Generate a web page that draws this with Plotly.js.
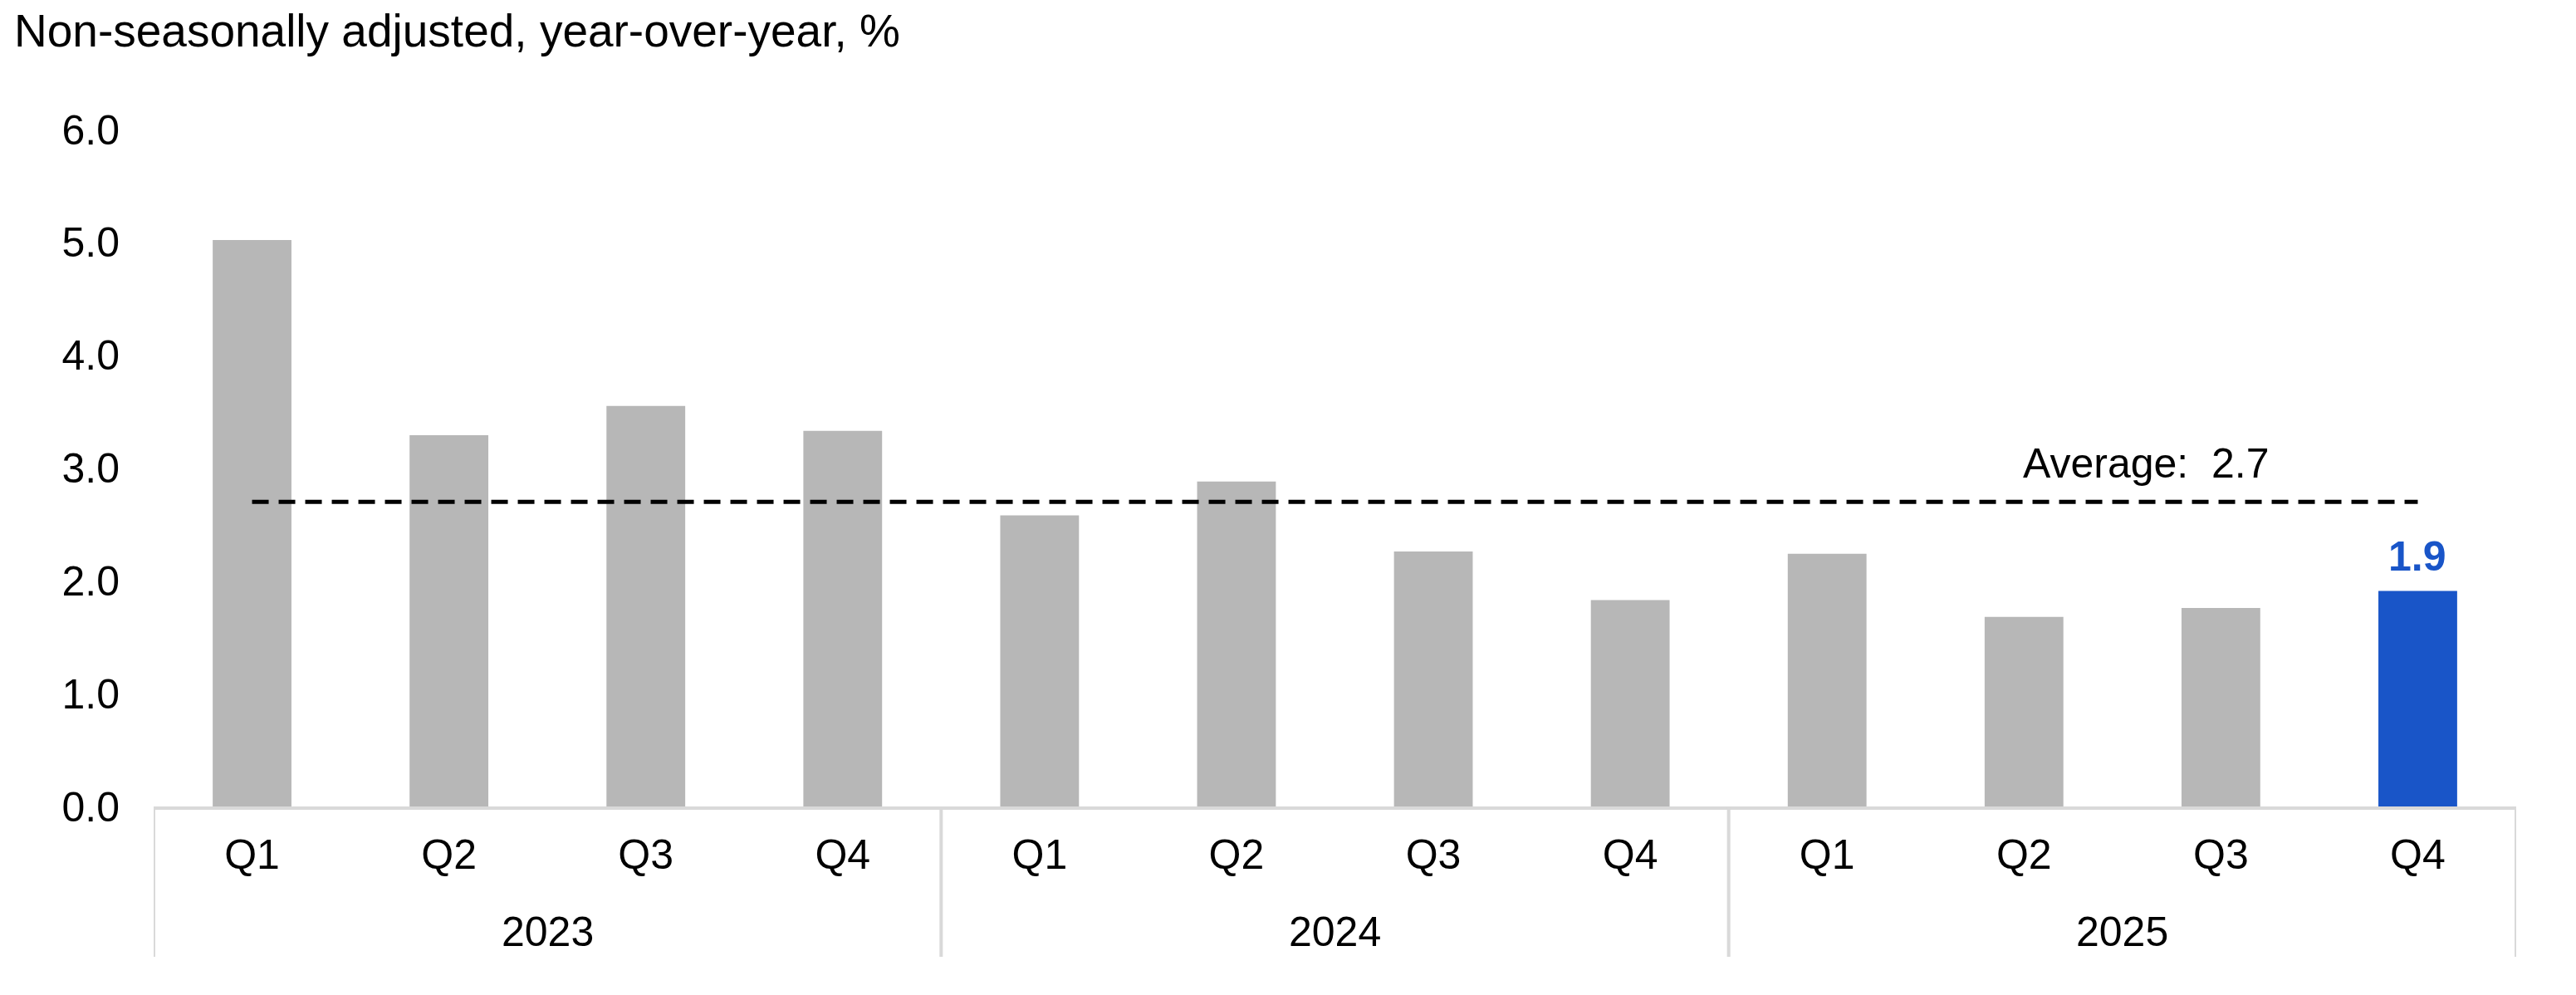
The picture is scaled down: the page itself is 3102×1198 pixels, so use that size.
<!DOCTYPE html>
<html>
<head>
<meta charset="utf-8">
<script src="https://cdn.plot.ly/plotly-3.0.1.min.js"></script>
<style>
  html, body { margin: 0; padding: 0; background: #ffffff; }
  #chart { width: 3102px; height: 1198px; }
</style>
</head>
<body>
<div id="chart"></div>
<script>
// ---- Data ----
const years    = ["2023", "2023", "2023", "2023", "2024", "2024", "2024", "2024", "2025", "2025", "2025", "2025"];
const quarters = ["Q1", "Q2", "Q3", "Q4", "Q1", "Q2", "Q3", "Q4", "Q1", "Q2", "Q3", "Q4"];
const values   = [5.02, 3.29, 3.55, 3.33, 2.58, 2.88, 2.26, 1.83, 2.24, 1.68, 1.76, 1.91];
const average  = 2.7;
const yTicks   = [0, 1, 2, 3, 4, 5, 6];
const titleText = "Non-seasonally adjusted, year-over-year, %";
const averageLabel = "Average:  2.7";

// ---- Styling ----
const FONT = "Arial, 'Liberation Sans', sans-serif";
const GREY = "#b7b7b7";
const BLUE = "#1955c8";
const AXIS = "#d9d9d9";
const PLOT_H = 1198 - 156 - 227;

const idx = values.map((v, i) => i);
const last = values.length - 1;
const barColors = values.map((v, i) => i === last ? BLUE : GREY);

// year groups derived from the data
const groups = [];
years.forEach((y, i) => {
  if (!groups.length || groups[groups.length - 1].year !== y) groups.push({ year: y, start: i, end: i });
  else groups[groups.length - 1].end = i;
});

const bars = {
  type: "bar",
  x: idx,
  y: values,
  marker: { color: barColors, line: { width: 0 } },
  hoverinfo: "skip",
  showlegend: false
};

const avgLine = {
  type: "scatter",
  mode: "lines",
  x: [idx[0], idx[last]],
  y: [average, average],
  line: { color: "#000000", width: 5, dash: "20px,12px" },
  hoverinfo: "skip",
  showlegend: false
};

const yearAnnotations = groups.map(g => ({
  xref: "x", yref: "paper",
  x: (g.start + g.end) / 2, y: 0,
  xanchor: "center", yanchor: "middle", yshift: -151,
  text: g.year, showarrow: false,
  font: { family: FONT, size: 50, color: "#000000" }
}));

const boundaries = [groups[0].start - 0.5].concat(groups.map(g => g.end + 0.5));
const dividerShapes = boundaries.map(b => ({
  type: "line", xref: "x", yref: "paper",
  x0: b, x1: b, y0: 0, y1: -181 / PLOT_H,
  line: { color: AXIS, width: 4 }
}));

const layout = {
  width: 3102,
  height: 1198,
  margin: { l: 185, r: 72, t: 156, b: 227 },
  paper_bgcolor: "#ffffff",
  plot_bgcolor: "#ffffff",
  font: { family: FONT, size: 50, color: "#000000" },
  bargap: 0.6,
  title: {
    text: titleText,
    font: { family: FONT, size: 55, color: "#000000" },
    x: 17 / 3102, xref: "container", xanchor: "left",
    y: 1 - 37 / 1198, yref: "container", yanchor: "middle"
  },
  xaxis: {
    type: "linear",
    range: [-0.5, last + 0.5],
    tickvals: idx,
    ticktext: quarters,
    showline: true,
    linecolor: AXIS,
    linewidth: 4,
    showgrid: false,
    zeroline: false,
    ticks: "",
    ticklabelstandoff: 11,
    tickfont: { family: FONT, size: 50, color: "#000000" },
    fixedrange: true
  },
  yaxis: {
    range: [0, 6],
    tickvals: yTicks,
    tickformat: ".1f",
    showgrid: false,
    zeroline: false,
    showline: false,
    ticks: "",
    ticklabelstandoff: 40,
    tickfont: { family: FONT, size: 50, color: "#000000" },
    fixedrange: true
  },
  shapes: dividerShapes,
  annotations: yearAnnotations.concat([
    {
      xref: "paper", yref: "y",
      x: (2584 - 185) / 2845, y: average,
      xanchor: "center", yanchor: "middle", yshift: 46,
      text: averageLabel,
      showarrow: false,
      font: { family: FONT, size: 50, color: "#000000" }
    },
    {
      xref: "x", yref: "y",
      x: last, y: values[last],
      xanchor: "center", yanchor: "middle", yshift: 42,
      text: "<b>" + values[last].toFixed(1) + "</b>",
      showarrow: false,
      font: { family: FONT, size: 50, color: BLUE }
    }
  ])
};

Plotly.newPlot("chart", [bars, avgLine], layout, { staticPlot: true, displayModeBar: false });
</script>
</body>
</html>
